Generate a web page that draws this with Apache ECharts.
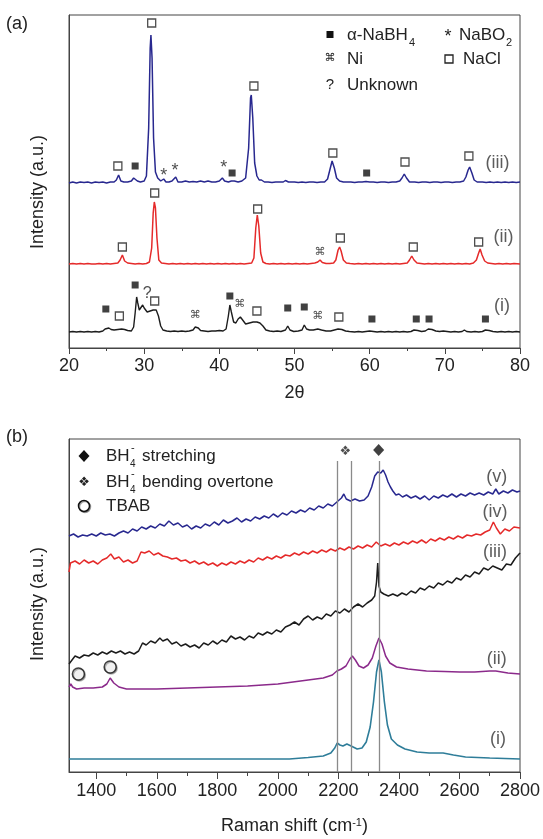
<!DOCTYPE html>
<html>
<head>
<meta charset="utf-8">
<script src="https://cdn.jsdelivr.net/npm/echarts@6/dist/echarts.min.js"></script>
<style>
  html, body { margin: 0; padding: 0; background: #fff; }
  #chart { width: 543px; height: 839px; }
</style>
</head>
<body>
<div id="chart"></div>
<script>
// ---- (a) XRD traces, [2theta, intensity a.u.] ----
const xrdIii = [[20,165],[20.5,166],[21,165],[21.5,166],[22,165.5],[22.5,166],[23,165],[23.5,166],[24,165.5],[24.5,166],[25,165],[25.5,166],[26,166],[26.3,168],[26.6,173],[26.9,167],[27.3,166],[27.8,166],[28.3,167],[28.6,170],[28.8,171],[29.1,167],[29.5,166],[30,167],[30.3,172],[30.6,220],[30.8,300],[30.9,313],[31.05,290],[31.25,210],[31.5,176],[31.8,170],[32.2,167],[32.6,169],[32.9,166],[33.3,166],[33.7,167],[34.2,171],[34.5,166],[35,166],[35.5,167],[36,166],[36.5,166.5],[37,166],[37.5,167],[38,166],[38.5,167],[39,166],[39.5,166],[40,167],[40.4,170],[40.7,167],[41.2,166],[41.6,167],[42,167],[42.5,166],[43,167],[43.5,170],[43.9,200],[44.15,250],[44.25,253],[44.45,230],[44.7,185],[45,172],[45.3,168],[45.6,168],[46,166],[46.5,166],[47,165.5],[47.5,166],[48,166],[48.5,166],[48.8,167.5],[49.2,166],[50,166],[50.5,165.5],[51,166],[51.5,165.5],[52,166],[52.5,166],[53,165.5],[53.5,166],[54,166],[54.4,169],[54.7,178],[55,187],[55.3,180],[55.6,170],[56,167],[56.5,166],[57,166],[57.5,166],[58,165.5],[58.5,166],[59,166],[59.5,166.5],[60,166],[60.5,166],[61,165.5],[61.5,166],[62,166],[62.5,165.5],[63,166],[63.5,166],[64,167],[64.3,170],[64.6,174],[64.9,170],[65.3,166],[66,166],[66.5,165.5],[67,166],[67.5,166],[68,165.5],[68.5,166],[69,166],[69.5,165.5],[70,166],[70.5,166],[71,165.5],[71.5,166],[72,166],[72.5,167],[72.8,171],[73.1,178],[73.3,181],[73.6,175],[73.9,168],[74.3,166],[75,166],[75.5,165.5],[76,166],[76.5,165.5],[77,166],[77.5,165.5],[78,166],[78.5,165.5],[79,166],[79.5,165.5],[80,166]];

const xrdIi = [[20,84],[20.5,84.5],[21,84],[21.5,84.5],[22,84],[22.5,84.5],[23,84],[23.5,84],[24,84.5],[24.5,84],[25,84.5],[25.5,84],[26,84.5],[26.5,85],[26.8,88],[27.1,93],[27.4,87],[27.8,85],[28.3,84.5],[28.8,84],[29.3,84.5],[29.8,84],[30.3,84.5],[30.7,86],[31.0,100],[31.2,135],[31.35,146],[31.5,140],[31.7,110],[31.95,88],[32.3,85],[32.8,84.5],[33.3,84],[33.8,84.5],[34.3,84],[34.8,84.5],[35.3,84],[35.8,84.5],[36.3,84],[36.8,84.5],[37.3,84],[37.8,84.5],[38.3,84],[38.8,84.5],[39.3,84],[39.8,84.5],[40.3,84],[40.8,84.5],[41.3,84],[41.8,84.5],[42.3,84],[42.8,84.5],[43.3,84],[43.8,84.5],[44.3,85],[44.6,90],[44.85,120],[45.05,133],[45.25,122],[45.5,95],[45.8,86],[46.2,84.5],[46.7,84],[47.2,84.5],[47.7,84],[48.2,84.5],[48.7,84],[49.2,84.5],[49.7,84],[50.2,84.5],[50.7,84],[51.2,84.5],[51.7,84],[52.2,84.5],[52.7,85],[53.1,86],[53.4,88],[53.7,85.5],[54.2,84.5],[54.7,84.5],[55.2,85],[55.5,88],[55.8,98],[56.0,101],[56.2,97],[56.5,88],[56.9,85],[57.4,84.5],[58,84],[58.5,84.5],[59,84],[59.5,84.5],[60,84],[60.5,84.5],[61,84],[61.5,84.5],[62,84],[62.5,84.5],[63,84],[63.5,84.5],[64,84],[64.5,84.5],[65,85],[65.3,88],[65.6,92],[65.9,88],[66.3,85],[66.8,84.5],[67.3,84],[67.8,84.5],[68.3,84],[68.8,84.5],[69.3,84],[69.8,84.5],[70.3,84],[70.8,84.5],[71.3,84],[71.8,84.5],[72.3,84],[72.8,84.5],[73.3,84],[73.8,85],[74.2,88],[74.5,95],[74.7,99],[74.95,93],[75.3,87],[75.7,85],[76.2,84.5],[76.7,84],[77.2,84.5],[77.7,84],[78.2,84.5],[78.7,84],[79.2,84.5],[80,84]];

const xrdI = [[20,16],[20.5,16.5],[21,16],[21.5,16.5],[22,16],[22.5,16.5],[23,16],[23.5,16.5],[24,16],[24.5,17],[24.8,19],[25.0,21],[25.3,20],[25.6,18.5],[26,18],[26.5,18.5],[27,19],[27.4,18.5],[27.8,17.5],[28.3,17],[28.6,21],[28.8,35],[29.0,51],[29.15,45],[29.35,38],[29.6,40],[29.8,43],[30.0,40],[30.4,36],[30.8,37],[31.2,38],[31.6,38],[31.9,32],[32.2,22],[32.5,18],[33,17],[33.5,16.5],[34,17],[34.5,16.5],[35,17],[35.5,16.5],[36,17],[36.5,18],[36.8,21],[37.0,23],[37.2,20],[37.5,17.5],[38,17],[38.5,16.5],[39,17],[39.5,17],[40,17.5],[40.5,17],[40.9,19],[41.2,32],[41.4,43],[41.6,36],[41.9,26],[42.2,25],[42.5,29],[42.8,31],[43.1,28],[43.5,24],[44,25],[44.5,26],[45,26],[45.4,25],[45.8,22],[46.2,18],[46.7,17],[47.2,16.5],[47.7,17],[48.2,16.5],[48.8,18],[49.1,22],[49.4,18],[49.9,16.5],[50.5,17],[51,18],[51.3,23],[51.6,19],[52,18],[52.5,18],[53.1,19],[53.6,18],[54.2,17],[54.8,17],[55.3,18],[55.8,19],[56.3,18.5],[56.8,17],[57.3,16.5],[58,16],[58.5,16.5],[59,16],[59.5,16.5],[60,17],[60.2,18],[60.5,16.5],[61,16],[61.5,16.5],[62,16],[62.5,16.5],[63,16],[63.5,16.5],[64,16],[64.5,16.5],[65,16],[65.5,16.5],[65.9,18],[66.1,20],[66.4,17.5],[66.9,16.5],[67.4,17],[67.8,19],[68.0,21],[68.3,18.5],[68.8,17],[69.3,16.5],[69.8,17],[70.3,16.5],[70.8,16],[71.3,16.5],[71.8,16],[72.3,16.5],[72.6,18],[72.9,16.5],[73.5,16],[74,16.5],[74.5,16],[75,16.5],[75.4,18],[75.6,19],[75.9,17.5],[76.4,16.5],[77,16],[77.5,16.5],[78,16],[78.5,16.5],[79,16],[79.5,16.5],[80,16]];

// phase markers on (a)
const nabh4Marks = [[28.8,182],[41.7,175],[59.6,175],[24.9,39],[28.8,63],[41.4,52],[49.1,40],[51.3,41],[60.3,29],[66.2,29],[67.9,29],[75.4,29]];
const naclMarks = [[26.5,182],[31.0,325],[44.6,262],[55.1,195],[64.7,186],[73.2,192],[27.1,101],[31.4,155],[45.1,139],[56.1,110],[65.8,101],[74.5,106],[26.7,32],[31.4,47],[45.0,37],[55.9,31]];
const nabo2Marks = [[32.6,176],[34.1,181],[40.6,184]];
const niMarks = [[53.4,96],[36.8,33],[42.7,44],[53.1,32]];
const unknownMarks = [[30.4,54]];
const xrdLabels = [{ name: '(iii)', value: [77.0,185] }, { name: '(ii)', value: [77.8,111] }, { name: '(i)', value: [77.6,42] }];

// ---- (b) Raman traces, [shift cm-1, intensity a.u.] ----
const ramanV = [[1310,236],[1325,238],[1340,235],[1355,237],[1370,236],[1385,238],[1400,236],[1415,239],[1430,237],[1445,238],[1460,236],[1475,239],[1490,241],[1505,239],[1520,243],[1535,241],[1550,245],[1565,243],[1580,246],[1595,244],[1610,248],[1625,246],[1640,251],[1655,247],[1670,249],[1685,245],[1700,247],[1715,243],[1730,246],[1745,244],[1760,248],[1775,246],[1790,250],[1805,247],[1820,252],[1835,249],[1850,251],[1865,254],[1880,250],[1895,253],[1910,251],[1925,255],[1940,253],[1955,256],[1970,254],[1985,258],[2000,255],[2015,259],[2030,257],[2045,261],[2060,259],[2075,262],[2090,260],[2105,264],[2120,262],[2135,266],[2150,264],[2165,268],[2180,266],[2195,270],[2210,274],[2218,278],[2226,273],[2240,271],[2255,273],[2270,271],[2285,272],[2298,276],[2310,285],[2320,296],[2330,300],[2340,299],[2348,302],[2356,297],[2364,290],[2372,285],[2380,281],[2390,277],[2400,278],[2412,275],[2425,277],[2440,274],[2455,276],[2470,273],[2485,276],[2500,272],[2515,276],[2530,274],[2545,277],[2560,275],[2575,278],[2590,275],[2605,278],[2620,276],[2635,279],[2650,277],[2665,279],[2680,277],[2695,280],[2710,278],[2720,283],[2730,278],[2745,281],[2760,279],[2775,282],[2790,280],[2800,281]];

const ramanIv = [[1310,200],[1315,209],[1330,211],[1345,208],[1360,212],[1375,209],[1390,211],[1405,208],[1420,212],[1435,214],[1448,218],[1460,213],[1475,215],[1490,210],[1505,212],[1520,209],[1535,211],[1548,220],[1560,219],[1575,221],[1590,217],[1605,219],[1620,216],[1635,215],[1650,213],[1665,214],[1680,211],[1695,212],[1710,209],[1725,211],[1740,208],[1755,210],[1770,207],[1785,209],[1800,206],[1815,209],[1830,207],[1845,210],[1860,208],[1875,211],[1890,209],[1905,212],[1920,210],[1935,214],[1950,212],[1965,215],[1980,213],[1995,216],[2010,214],[2025,217],[2040,216],[2055,219],[2070,217],[2085,220],[2100,218],[2115,221],[2130,219],[2145,222],[2160,220],[2175,223],[2190,221],[2205,224],[2220,222],[2235,225],[2250,223],[2265,226],[2280,224],[2295,227],[2310,225],[2325,230],[2340,226],[2355,228],[2370,226],[2385,229],[2400,227],[2415,230],[2430,228],[2445,231],[2460,229],[2475,232],[2490,229],[2505,233],[2520,231],[2535,234],[2550,232],[2565,235],[2580,233],[2595,236],[2610,234],[2625,237],[2640,236],[2655,238],[2670,237],[2685,240],[2700,242],[2712,250],[2722,244],[2735,238],[2750,243],[2765,241],[2780,245],[2800,244]];

const ramanIii = [[1310,108],[1320,112],[1330,116],[1345,114],[1360,117],[1375,116],[1390,119],[1405,117],[1420,120],[1435,118],[1450,121],[1465,119],[1480,121],[1495,118],[1510,120],[1525,118],[1540,121],[1553,129],[1565,127],[1580,131],[1595,129],[1610,134],[1620,131],[1635,133],[1650,128],[1665,130],[1680,126],[1695,128],[1710,125],[1725,127],[1740,124],[1755,129],[1770,127],[1785,131],[1800,128],[1815,132],[1830,130],[1845,136],[1860,133],[1875,135],[1890,132],[1905,136],[1920,134],[1935,139],[1950,137],[1965,140],[1980,138],[1995,142],[2010,140],[2025,145],[2040,147],[2055,150],[2070,147],[2085,153],[2100,156],[2115,152],[2130,155],[2145,153],[2160,158],[2175,156],[2190,161],[2205,159],[2220,163],[2235,160],[2250,165],[2265,168],[2280,165],[2295,169],[2310,172],[2320,176],[2326,190],[2330,209],[2334,186],[2340,180],[2350,178],[2365,176],[2380,178],[2395,176],[2410,179],[2425,177],[2440,181],[2455,179],[2470,184],[2485,182],[2500,186],[2515,184],[2530,189],[2545,187],[2560,191],[2575,189],[2590,194],[2605,192],[2620,197],[2635,195],[2650,200],[2665,198],[2680,204],[2695,202],[2710,206],[2725,204],[2740,202],[2755,208],[2770,207],[2785,214],[2800,219]];

const ramanIi = [[1310,85],[1316,88],[1322,85],[1335,83],[1360,84],[1390,84],[1420,85],[1435,88],[1446,94],[1458,89],[1475,85],[1500,83],[1550,83],[1600,83],[1700,84],[1800,85],[1900,86],[2000,88],[2050,90],[2100,92],[2150,94],[2180,97],[2195,101],[2210,103],[2225,106],[2238,113],[2246,116],[2256,112],[2268,106],[2283,104],[2298,107],[2312,114],[2324,126],[2334,134],[2344,128],[2356,116],[2370,109],[2392,105],[2430,103],[2491,101],[2550,100.5],[2601,100],[2650,100],[2700,101],[2720,101],[2760,99],[2800,98]];

const ramanI = [[1310,13],[1600,13],[1900,13],[2038,13],[2100,14.5],[2150,16],[2175,19],[2188,24],[2196,29],[2205,27],[2215,26],[2228,28],[2242,26],[2262,23],[2278,24],[2292,30],[2305,45],[2316,70],[2326,100],[2334,112],[2342,100],[2352,70],[2362,47],[2375,33],[2395,27],[2420,23],[2460,20],[2500,19],[2546,19],[2580,17],[2620,15],[2700,14],[2800,13]];

const guideLines = [2196, 2243, 2336];
const guideTop = 311;
const tbabMarks = [[1341,98],[1446,105]];
const stretchMarks = [[2333,322]];
const bendMarks = [[2223,320]];
const ramanLabels = [{ name: '(v)', value: [2723,295] }, { name: '(iv)', value: [2717,260] }, { name: '(iii)', value: [2717,220] }, { name: '(ii)', value: [2723,113] }, { name: '(i)', value: [2727,33] }];

const FONT = "'Liberation Sans', Arial, sans-serif";
const INK = '#222';
const AXIS = '#444';

const chart = echarts.init(document.getElementById('chart'));

const line = (data, color, xi, w) => ({
  type: 'line', data, xAxisIndex: xi, yAxisIndex: xi, symbol: 'none',
  lineStyle: { color, width: w }, silent: true, z: 2
});

const boxes = (data, xi, filled, size) => ({
  type: 'scatter', data, xAxisIndex: xi, yAxisIndex: xi, symbol: 'rect', symbolSize: size, silent: true, z: 5,
  itemStyle: filled ? { color: '#111' } : { color: '#fff', borderColor: INK, borderWidth: 1.3 }
});

const glyphs = (data, xi, ch, size, family, dy) => ({
  type: 'scatter', data, xAxisIndex: xi, yAxisIndex: xi, symbol: 'circle', symbolSize: 1, silent: true, z: 5,
  itemStyle: { color: 'rgba(0,0,0,0)' },
  label: { show: true, position: 'inside', formatter: ch, fontSize: size, fontFamily: family, color: INK, offset: [0, dy] }
});

const names = (data, xi) => ({
  type: 'scatter', data, xAxisIndex: xi, yAxisIndex: xi, symbol: 'circle', symbolSize: 1, silent: true, z: 5,
  itemStyle: { color: 'rgba(0,0,0,0)' },
  label: { show: true, position: 'inside', formatter: '{b}', fontSize: 18, fontFamily: FONT, color: '#333' }
});

const txt = (text, x, y, size, align, extra) => Object.assign({
  type: 'text', x, y, silent: true,
  style: { text, font: size + 'px ' + FONT, fill: INK, textAlign: align || 'left', textVerticalAlign: 'middle' }
}, extra || {});

const hideY = gi => ({
  gridIndex: gi, type: 'value', min: 0, max: 333,
  axisLine: { show: true, lineStyle: { color: AXIS } }, axisTick: { show: false },
  axisLabel: { show: false }, splitLine: { show: false }
});

const option = {
  animation: false,
  grid: [
    { left: 69, right: 23, top: 15, height: 333, show: true, borderColor: AXIS, borderWidth: 1 },
    { left: 69, right: 23, top: 439, height: 333, show: true, borderColor: AXIS, borderWidth: 1 },
    // tick/label carrier for the Raman axis, starting at 1400
    { left: 69 + (1400 - 1310) * 451 / 1490, right: 23, top: 439, height: 333, show: false }
  ],
  xAxis: [
    {
      gridIndex: 0, type: 'value', min: 20, max: 80, interval: 10,
      axisLine: { lineStyle: { color: AXIS } },
      axisTick: { length: 6, lineStyle: { color: AXIS } },
      minorTick: { show: true, splitNumber: 2, length: 3, lineStyle: { color: AXIS } },
      splitLine: { show: false },
      axisLabel: { fontSize: 18, color: INK, fontFamily: FONT, margin: 9 },
      name: '2θ', nameLocation: 'middle', nameGap: 36,
      nameTextStyle: { fontSize: 18, color: INK, fontFamily: FONT }
    },
    {
      gridIndex: 1, type: 'value', min: 1310, max: 2800,
      axisLine: { lineStyle: { color: AXIS } }, axisTick: { show: false },
      axisLabel: { show: false }, splitLine: { show: false },
      name: '{n|Raman shift (cm}{s|-1}{n|)}', nameLocation: 'middle', nameGap: 45,
      nameTextStyle: {
        rich: {
          n: { fontSize: 18, color: INK, fontFamily: FONT },
          s: { fontSize: 11, color: INK, fontFamily: FONT, verticalAlign: 'top' }
        }
      }
    },
    {
      gridIndex: 2, type: 'value', min: 1400, max: 2800, interval: 200,
      axisLine: { show: false },
      axisTick: { length: 7, lineStyle: { color: AXIS } },
      minorTick: { show: true, splitNumber: 2, length: 4, lineStyle: { color: AXIS } },
      splitLine: { show: false },
      axisLabel: { fontSize: 18, color: INK, fontFamily: FONT, margin: 10, formatter: v => String(v) }
    }
  ],
  yAxis: [hideY(0), hideY(1), { gridIndex: 2, show: false, min: 0, max: 1 }],
  series: [
    line(xrdIii, '#28288f', 0, 1.5),
    line(xrdIi, '#e52a2a', 0, 1.5),
    line(xrdI, '#1c1c1c', 0, 1.4),
    boxes(nabh4Marks, 0, true, 7),
    boxes(naclMarks, 0, false, 8),
    glyphs(nabo2Marks, 0, '*', 18, FONT, 4),
    glyphs(niMarks, 0, '⌘', 11, 'DejaVu Sans', 0),
    glyphs(unknownMarks, 0, '?', 16, FONT, 0),
    names(xrdLabels, 0),

    line(ramanV, '#28288f', 1, 1.5),
    line(ramanIv, '#e52a2a', 1, 1.5),
    line(ramanIii, '#1c1c1c', 1, 1.5),
    line(ramanIi, '#8b2a8b', 1, 1.5),
    Object.assign(line(ramanI, '#2e7d99', 1, 1.6), {
      markLine: {
        silent: true, symbol: ['none', 'none'], label: { show: false },
        lineStyle: { color: '#8a8a8a', width: 1.3, type: 'solid' },
        data: guideLines.map(v => [{ coord: [v, 0] }, { coord: [v, guideTop] }])
      }
    }),
    {
      type: 'scatter', data: tbabMarks, xAxisIndex: 1, yAxisIndex: 1, symbol: 'circle', symbolSize: 12, silent: true, z: 5,
      itemStyle: { color: '#fff', borderColor: '#111', borderWidth: 1.5, shadowColor: 'rgba(0,0,0,0.35)', shadowOffsetX: 1, shadowOffsetY: 1, shadowBlur: 0 }
    },
    {
      type: 'scatter', data: stretchMarks, xAxisIndex: 1, yAxisIndex: 1, symbol: 'diamond', symbolSize: [11, 12], silent: true, z: 5,
      itemStyle: { color: '#111' }
    },
    glyphs(bendMarks, 1, '❖', 13, 'DejaVu Sans', 0),
    names(ramanLabels, 1)
  ],
  graphic: [
    txt('(a)', 6, 24, 18),
    txt('(b)', 6, 437, 18),
    txt('Intensity (a.u.)', 38, 192, 18, 'center', { rotation: Math.PI / 2 }),
    txt('Intensity (a.u.)', 38, 604, 18, 'center', { rotation: Math.PI / 2 }),

    // legend (a)
    { type: 'rect', silent: true, shape: { x: 326.5, y: 31, width: 7, height: 7 }, style: { fill: '#111' } },
    txt('α-NaBH', 347, 35, 17),
    txt('4', 409, 43, 11),
    txt('*', 448, 37, 18, 'center'),
    txt('NaBO', 459, 35, 17),
    txt('2', 506, 43, 11),
    { type: 'text', x: 330, y: 58.5, silent: true, style: { text: '⌘', font: '11px DejaVu Sans', fill: INK, textAlign: 'center', textVerticalAlign: 'middle' } },
    txt('Ni', 347, 59, 17),
    { type: 'rect', silent: true, shape: { x: 445, y: 55, width: 8, height: 8 }, style: { fill: '#fff', stroke: INK, lineWidth: 1.3 } },
    txt('NaCl', 463, 59, 17),
    txt('?', 330, 85, 15, 'center'),
    txt('Unknown', 347, 85, 17),

    // legend (b)
    { type: 'polygon', silent: true, shape: { points: [[84, 450], [89.5, 456], [84, 462], [78.5, 456]] }, style: { fill: '#111' } },
    txt('BH', 106, 456, 17),
    txt('4', 130, 464, 10),
    txt('-', 131, 448, 11),
    txt('stretching', 142, 456, 17),
    { type: 'text', x: 84, y: 482.5, silent: true, style: { text: '❖', font: '13px DejaVu Sans', fill: INK, textAlign: 'center', textVerticalAlign: 'middle' } },
    txt('BH', 106, 482, 17),
    txt('4', 130, 490, 10),
    txt('-', 131, 474, 11),
    txt('bending overtone', 142, 482, 17),
    { type: 'circle', silent: true, shape: { cx: 84, cy: 506, r: 5.5 }, style: { fill: '#fff', stroke: '#111', lineWidth: 1.5, shadowColor: 'rgba(0,0,0,0.35)', shadowOffsetX: 1, shadowOffsetY: 1, shadowBlur: 0 } },
    txt('TBAB', 106, 506, 17)
  ]
};

chart.setOption(option);
</script>
</body>
</html>
